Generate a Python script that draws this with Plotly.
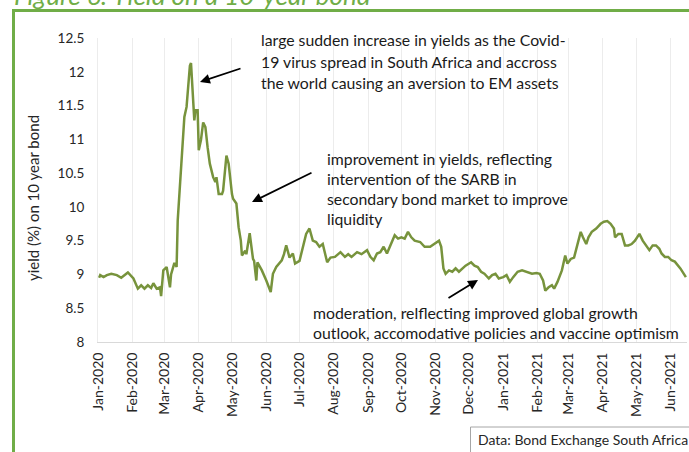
import plotly.graph_objects as go

# ---------------- data ----------------
dates = [
    "2020-01-02", "2020-01-03", "2020-01-06", "2020-01-09", "2020-01-13", "2020-01-18",
    "2020-01-22", "2020-01-28", "2020-02-02", "2020-02-06", "2020-02-09", "2020-02-12",
    "2020-02-15", "2020-02-18", "2020-02-20", "2020-02-23", "2020-02-26", "2020-02-27",
    "2020-02-29", "2020-03-03", "2020-03-06", "2020-03-07", "2020-03-10", "2020-03-12",
    "2020-03-13", "2020-03-16", "2020-03-19", "2020-03-21", "2020-03-24", "2020-03-25",
    "2020-03-27", "2020-03-28", "2020-03-29", "2020-03-31", "2020-04-01", "2020-04-03",
    "2020-04-05", "2020-04-07", "2020-04-09", "2020-04-11", "2020-04-14", "2020-04-16",
    "2020-04-17", "2020-04-19", "2020-04-22", "2020-04-23", "2020-04-26", "2020-04-28",
    "2020-05-01", "2020-05-02", "2020-05-05", "2020-05-07", "2020-05-09", "2020-05-10",
    "2020-05-13", "2020-05-14", "2020-05-17", "2020-05-18", "2020-05-20", "2020-05-21",
    "2020-05-23", "2020-05-24", "2020-05-28", "2020-06-01", "2020-06-05", "2020-06-07",
    "2020-06-10", "2020-06-15", "2020-06-17", "2020-06-19", "2020-06-22", "2020-06-25",
    "2020-06-27", "2020-07-01", "2020-07-04", "2020-07-07", "2020-07-10", "2020-07-13",
    "2020-07-16", "2020-07-19", "2020-07-22", "2020-07-26", "2020-07-29", "2020-08-02",
    "2020-08-07", "2020-08-11", "2020-08-14", "2020-08-17", "2020-08-22", "2020-08-26",
    "2020-08-31", "2020-09-03", "2020-09-06", "2020-09-09", "2020-09-12", "2020-09-15",
    "2020-09-18", "2020-09-22", "2020-09-25", "2020-09-28", "2020-10-01", "2020-10-04",
    "2020-10-07", "2020-10-10", "2020-10-13", "2020-10-18", "2020-10-22", "2020-10-27",
    "2020-10-31", "2020-11-04", "2020-11-06", "2020-11-08", "2020-11-10", "2020-11-13",
    "2020-11-16", "2020-11-19", "2020-11-22", "2020-11-25", "2020-11-28", "2020-12-03",
    "2020-12-06", "2020-12-09", "2020-12-12", "2020-12-15", "2020-12-19", "2020-12-22",
    "2020-12-25", "2020-12-28", "2021-01-01", "2021-01-04", "2021-01-07", "2021-01-10",
    "2021-01-14", "2021-01-18", "2021-01-22", "2021-01-27", "2021-01-31", "2021-02-03",
    "2021-02-06", "2021-02-08", "2021-02-11", "2021-02-14", "2021-02-16", "2021-02-19",
    "2021-02-23", "2021-02-26", "2021-02-28", "2021-03-03", "2021-03-06", "2021-03-09",
    "2021-03-12", "2021-03-14", "2021-03-17", "2021-03-19", "2021-03-22", "2021-03-26",
    "2021-03-30", "2021-04-02", "2021-04-05", "2021-04-08", "2021-04-11", "2021-04-12",
    "2021-04-15", "2021-04-18", "2021-04-21", "2021-04-24", "2021-04-27", "2021-04-30",
    "2021-05-04", "2021-05-07", "2021-05-11", "2021-05-13", "2021-05-16", "2021-05-19",
    "2021-05-22", "2021-05-24", "2021-05-27", "2021-05-30", "2021-06-02", "2021-06-05",
    "2021-06-10", "2021-06-13", "2021-06-15",
]
yields = [
    8.95, 8.99, 8.96, 8.99, 9.01, 8.99,
    8.95, 9.03, 8.94, 8.79, 8.84, 8.79,
    8.84, 8.80, 8.87, 8.79, 8.81, 8.68,
    9.06, 9.11, 8.81, 9.00, 9.17, 9.11,
    9.80, 10.59, 11.33, 11.48, 12.09, 12.13,
    11.48, 11.28, 11.43, 11.43, 10.84, 10.99,
    11.25, 11.18, 10.88, 10.64, 10.44, 10.37,
    10.44, 10.19, 10.19, 10.24, 10.76, 10.64,
    10.19, 10.12, 10.05, 9.70, 9.50, 9.28,
    9.35, 9.30, 9.61, 9.50, 9.23, 9.20,
    8.91, 9.18, 9.06, 8.91, 8.74, 9.01,
    9.11, 9.21, 9.30, 9.43, 9.25, 9.31,
    9.16, 9.20, 9.41, 9.60, 9.68, 9.50,
    9.48, 9.41, 9.45, 9.18, 9.25, 9.26,
    9.33, 9.26, 9.30, 9.26, 9.33, 9.30,
    9.36, 9.26, 9.21, 9.31, 9.33, 9.41,
    9.31, 9.48, 9.58, 9.53, 9.55, 9.53,
    9.63, 9.55, 9.50, 9.48, 9.41, 9.41,
    9.45, 9.50, 9.41, 9.09, 9.01, 9.06,
    9.04, 9.09, 9.04, 9.09, 9.13, 9.18,
    9.13, 9.11, 9.04, 9.01, 8.94, 8.99,
    9.01, 8.94, 8.96, 8.99, 8.89, 8.96,
    9.04, 9.06, 9.04, 9.01, 9.02, 9.01,
    8.91, 8.76, 8.81, 8.84, 8.79, 8.89,
    9.06, 9.28, 9.16, 9.23, 9.25, 9.45,
    9.63, 9.55, 9.45, 9.55, 9.63, 9.68,
    9.75, 9.78, 9.79, 9.75, 9.68, 9.55,
    9.60, 9.60, 9.43, 9.43, 9.45, 9.50,
    9.60, 9.50, 9.41, 9.36, 9.43, 9.43,
    9.38, 9.31, 9.26, 9.26, 9.21, 9.19,
    9.09, 9.01, 8.96,
]

month_ticks = [
    "2020-01-01", "2020-02-01", "2020-03-01", "2020-04-01", "2020-05-01", "2020-06-01",
    "2020-07-01", "2020-08-01", "2020-09-01", "2020-10-01", "2020-11-01", "2020-12-01",
    "2021-01-01", "2021-02-01", "2021-03-01", "2021-04-01", "2021-05-01", "2021-06-01",
]
month_labels = [
    "Jan-2020", "Feb-2020", "Mar-2020", "Apr-2020", "May-2020", "Jun-2020",
    "Jul-2020", "Aug-2020", "Sep-2020", "Oct-2020", "Nov-2020", "Dec-2020",
    "Jan-2021", "Feb-2021", "Mar-2021", "Apr-2021", "May-2021", "Jun-2021",
]
y_ticks = [8, 8.5, 9, 9.5, 10, 10.5, 11, 11.5, 12, 12.5]
y_labels = ["8", "8.5", "9", "9.5", "10", "10.5", "11", "11.5", "12", "12.5"]

title_text = "Figure 6: Yield on a 10-year bond"
y_title = "yield (%) on 10 year bond"
note1 = ["large sudden increase in yields as the Covid-",
         "19 virus spread in South Africa and accross",
         "the world causing an aversion to EM assets"]
note2 = ["improvement in yields, reflecting",
         "intervention of the SARB in",
         "secondary bond market to improve",
         "liquidity"]
note3 = ["moderation, relflecting improved global growth",
         "outlook, accomodative policies and vaccine optimism"]
source_text = "Data: Bond Exchange South Africa"

# ---------------- layout helpers (pixel -> paper) ----------------
W, H = 689, 452
ML, MR, MT, MB = 98, 2, 38, 110
PW, PH = W - ML - MR, H - MT - MB


def px(x):
    return (x - ML) / PW


def py(y):
    return (H - MB - y) / PH


FONT = "Lato, 'Open Sans', sans-serif"
TXT = "#1a1a1a"
GREEN = "#77933c"
NOTE_SIZE = 15.8

fig = go.Figure()
fig.add_trace(go.Scatter(
    x=dates, y=yields, mode="lines",
    line=dict(color=GREEN, width=2.5),
    showlegend=False, hoverinfo="x+y",
))

annotations = []
for i, t in enumerate(note1):
    annotations.append(dict(text=t, x=px(259), y=py(40 + i * 21), xref="paper", yref="paper",
                            xanchor="left", yanchor="middle", showarrow=False,
                            font=dict(size=NOTE_SIZE, color=TXT, family=FONT)))
for i, t in enumerate(note2):
    annotations.append(dict(text=t, x=px(325), y=py(158 + i * 20), xref="paper", yref="paper",
                            xanchor="left", yanchor="middle", showarrow=False,
                            font=dict(size=NOTE_SIZE, color=TXT, family=FONT)))
for i, t in enumerate(note3):
    annotations.append(dict(text=t, x=px(311), y=py(312 + i * 20), xref="paper", yref="paper",
                            xanchor="left", yanchor="middle", showarrow=False,
                            font=dict(size=NOTE_SIZE, color=TXT, family=FONT)))

# arrows (tip, tail)
for tip, tail in [((200, 82), (242, 68)), ((252, 202), (313, 172)), ((478, 280), (447, 299))]:
    annotations.append(dict(text="", x=px(tip[0]), y=py(tip[1]), xref="paper", yref="paper",
                            ax=tail[0] - tip[0], ay=tail[1] - tip[1], showarrow=True,
                            arrowhead=2, arrowsize=1.1, arrowwidth=1.8, arrowcolor="#000000",
                            standoff=0, startstandoff=0))

annotations.append(dict(text=y_title, x=px(33), y=py(198), xref="paper", yref="paper",
                        textangle=-90, showarrow=False, xanchor="center", yanchor="middle",
                        font=dict(size=15, color="#262626", family=FONT)))

# figure caption, cropped at the top edge like in the reference
annotations.append(dict(text="<i>" + title_text + "</i>", x=px(12), y=py(-5), xref="paper",
                        yref="paper", xanchor="left", yanchor="middle", showarrow=False,
                        font=dict(size=26, color="#70ad47", family=FONT)))

annotations.append(dict(text=source_text, x=px(476), y=py(439), xref="paper", yref="paper",
                        xanchor="left", yanchor="middle", showarrow=False,
                        font=dict(size=14, color="#262626", family=FONT)))

shapes = [
    dict(type="line", xref="paper", yref="paper", x0=px(13.5), x1=px(13.5), y0=py(10), y1=py(470),
         line=dict(color="#70ad47", width=3)),
    dict(type="line", xref="paper", yref="paper", x0=px(12), x1=px(700), y0=py(10.5), y1=py(10.5),
         line=dict(color="#70ad47", width=3)),
    dict(type="rect", xref="paper", yref="paper", x0=px(470.5), x1=px(710), y0=py(427), y1=py(470),
         line=dict(color="#a6a6a6", width=1), fillcolor="rgba(0,0,0,0)"),
]

fig.update_layout(
    width=W, height=H,
    margin=dict(l=ML, r=MR, t=MT, b=MB),
    paper_bgcolor="white", plot_bgcolor="white",
    annotations=annotations, shapes=shapes,
    font=dict(family=FONT, color="#404040"),
    xaxis=dict(
        type="date", range=["2020-01-01", "2021-06-16"],
        tickvals=month_ticks, ticktext=month_labels, tickangle=-90,
        tickfont=dict(size=14, color="#262626", family=FONT),
        showgrid=True, gridcolor="#ececec", gridwidth=1,
        showline=True, linecolor="#d9d9d9", linewidth=1,
        ticks="", ticklabelstandoff=4, zeroline=False, automargin=False,
    ),
    yaxis=dict(
        range=[8, 12.5], tickvals=y_ticks, ticktext=y_labels,
        tickfont=dict(size=13.5, color="#262626", family=FONT),
        showgrid=False, zeroline=False, showline=True, linecolor="#ececec",
        ticks="", ticklabelstandoff=10, automargin=False,
    ),
)

fig.write_html(
    "out.html",
    config={"displayModeBar": False},
    post_script="document.body.style.margin='0';document.body.style.overflow='hidden';",
)
